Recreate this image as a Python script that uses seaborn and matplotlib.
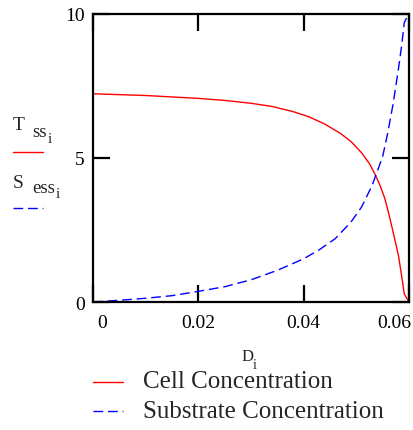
import matplotlib
matplotlib.use("Agg")
import matplotlib.pyplot as plt
import matplotlib.transforms as mtransforms
from matplotlib.lines import Line2D
import seaborn as sns
import pandas as pd

# ---- data ----
cell_D = [0, 0.01, 0.02, 0.025, 0.03, 0.034, 0.038, 0.041, 0.044, 0.047, 0.049,
          0.051, 0.0525, 0.0535, 0.0545, 0.0554, 0.0561, 0.057, 0.058, 0.0586,
          0.0591, 0.0596, 0.0599]
cell_conc = [7.23, 7.17, 7.07, 7.00, 6.90, 6.79, 6.61, 6.43, 6.18, 5.85, 5.57,
             5.18, 4.80, 4.45, 4.05, 3.60, 3.11, 2.42, 1.61, 0.91, 0.28, 0.12, 0.04]
substrate_D = [0, 0.005, 0.01, 0.015, 0.02, 0.025, 0.03, 0.035, 0.04, 0.043, 0.046,
               0.049, 0.051, 0.053, 0.055, 0.056, 0.057, 0.058, 0.0586, 0.0591,
               0.0596, 0.0599]
substrate_conc = [0.0, 0.06, 0.13, 0.22, 0.37, 0.53, 0.77, 1.10, 1.50, 1.82, 2.20,
                  2.78, 3.30, 4.05, 5.05, 5.90, 6.90, 8.10, 8.90, 9.70, 9.88, 9.95]
series_names = ["Cell Concentration", "Substrate Concentration"]
x_ticks = [0, 0.02, 0.04, 0.06]
x_tick_labels = ["0", "0.02", "0.04", "0.06"]
y_ticks = [0, 5, 10]
y_tick_labels = ["0", "5", "10"]

df = pd.concat([
    pd.DataFrame({"D": cell_D, "value": cell_conc, "series": series_names[0]}),
    pd.DataFrame({"D": substrate_D, "value": substrate_conc, "series": series_names[1]}),
])

sns.set_style("white")
plt.rcParams["font.family"] = ["Liberation Serif", "DejaVu Serif"]

W, H = 414, 431
fig = plt.figure(figsize=(W / 100, H / 100), dpi=100)
ax_l, ax_r, ax_t, ax_b = 93, 409, 15, 303
ax = fig.add_axes([ax_l / W, 1 - ax_b / H, (ax_r - ax_l) / W, (ax_b - ax_t) / H])

red, blue = "#ff0000", "#0000ff"
sns.lineplot(data=df, x="D", y="value", hue="series", style="series",
             palette={series_names[0]: red, series_names[1]: blue},
             dashes={series_names[0]: "", series_names[1]: (7, 3.5)},
             estimator=None, sort=False, legend=False, linewidth=1.0, ax=ax)

ax.set_xlim(0, 0.06)
ax.set_ylim(0, 10)
ax.set_xticks(x_ticks)
ax.set_xticklabels(x_tick_labels)
ax.set_yticks(y_ticks)
ax.set_yticklabels(y_tick_labels)
ax.set_xlabel("")
ax.set_ylabel("")
for s in ax.spines.values():
    s.set_visible(True)
    s.set_linewidth(1.6)
    s.set_color("black")
ax.tick_params(direction="in", length=12, width=1.6, colors="black",
               top=True, right=True, bottom=True, left=True,
               labelsize=14, labelcolor="black")
ax.tick_params(axis="x", pad=9)
ax.tick_params(axis="y", pad=6)

xl = ax.get_xticklabels()
xl[0].set_ha("left")
xl[0].set_transform(xl[0].get_transform() + mtransforms.ScaledTranslation(4 / 100, 0, fig.dpi_scale_trans))
xl[-1].set_ha("right")
xl[-1].set_transform(xl[-1].get_transform() + mtransforms.ScaledTranslation(2 / 100, 0, fig.dpi_scale_trans))


def ftxt(x, y, s, size, **kw):
    fig.text(x / W, 1 - y / H, s, fontsize=size, va="baseline", ha="left", **kw)


def fline(x0, x1, y, color, dashed=False):
    ln = Line2D([x0 / W, x1 / W], [1 - y / H, 1 - y / H], transform=fig.transFigure,
                color=color, linewidth=1.0)
    if dashed:
        ln.set_dashes((7, 3.5))
    fig.add_artist(ln)


# y-axis label (Mathcad style)
ftxt(13, 130, "T", 14)
ftxt(32, 137, "ss", 13.5)
ftxt(48, 143, "i", 11)
fline(13, 43, 153, red)
ftxt(13, 188, "S", 14)
ftxt(32, 193, "ess", 13.5)
ftxt(56, 198, "i", 11)
fline(13, 43, 209, blue, dashed=True)

# x-axis label
ftxt(242, 361, "D", 12)
ftxt(253, 369, "i", 10)

# legend
fline(93, 123, 383, red)
ftxt(143, 388, series_names[0], 18)
fline(93, 123, 412, blue, dashed=True)
ftxt(143, 418, series_names[1], 18)

fig.savefig("out.png", dpi=100)
